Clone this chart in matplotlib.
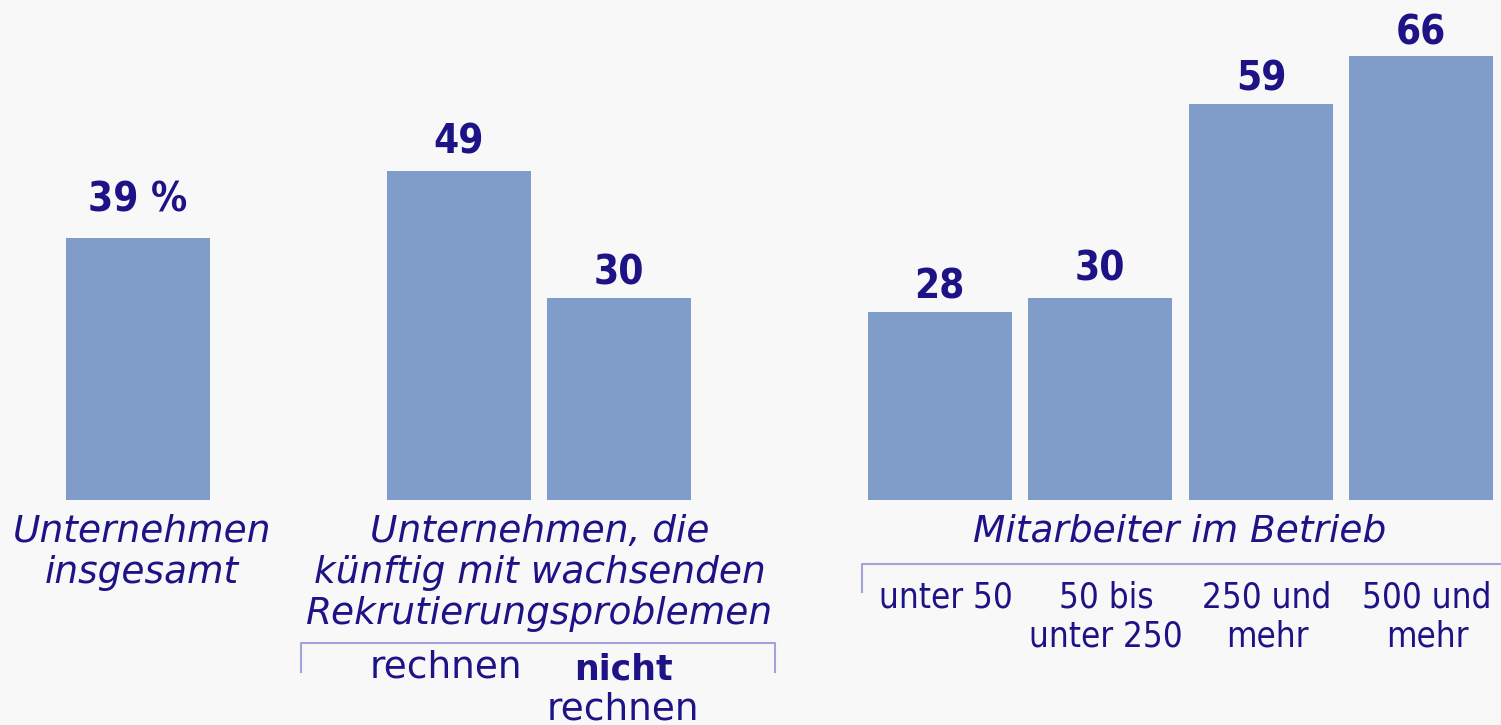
import matplotlib.pyplot as plt

# data
values = [39, 49, 30, 28, 30, 59, 66]
value_labels = ["39 %", "49", "30", "28", "30", "59", "66"]
group_titles = ["Unternehmen\ninsgesamt",
                "Unternehmen, die\nkünftig mit wachsenden\nRekrutierungsproblemen",
                "Mitarbeiter im Betrieb"]
size_labels = ["unter 50", "50 bis\nunter 250", "250 und\nmehr", "500 und\nmehr"]

# layout (x in pixels, y in percent units)
bar_x = [137.5, 458.5, 619, 939.5, 1100, 1261, 1421]
bar_w = 144
label_pad = [4.0, 2.5, 2.0, 2.0, 2.6, 2.0, 1.8]
px = 6.72  # pixels per percent

bar_color = "#809dc9"
text_color = "#1d1386"
line_color = "#a3a3dc"
bg = "#f8f8f8"

def yv(ypix):
    # pixel row -> value coordinate
    return (500 - ypix) / px

fig = plt.figure(figsize=(15.01, 7.25), dpi=100, facecolor=bg)
ax = fig.add_axes([0, 0, 1, 1])
ax.set_facecolor(bg)
ax.set_xlim(0, 1501)
ax.set_ylim(yv(725), yv(0))
ax.axis("off")

ax.bar(bar_x, values, width=bar_w, color=bar_color, edgecolor="none")
for x, v, lab, pad in zip(bar_x, values, value_labels, label_pad):
    ax.text(x, v + pad, lab, ha="center", va="baseline", fontsize=29,
            fontweight="bold", fontstretch="condensed", family="DejaVu Sans",
            color=text_color)

# group titles
title_kw = dict(ha="center", va="top", fontsize=27, style="italic",
                family="DejaVu Sans", color=text_color, linespacing=1.18)
ax.text(142, yv(514), group_titles[0], **title_kw)
ax.text(540, yv(514), group_titles[1], **title_kw)
ax.text(1180, yv(514), group_titles[2], **title_kw)

# bracket under the second group
ax.plot([301, 301, 775, 775], [yv(672), yv(643), yv(643), yv(672)],
        color=line_color, lw=1.5)
sub_kw = dict(ha="center", va="baseline", fontsize=27, family="DejaVu Sans",
              color=text_color)
ax.text(446, yv(677), "rechnen", **sub_kw)
ax.text(623, yv(680), "nicht", fontsize=25, fontweight="bold",
        family="DejaVu Sans", color=text_color, ha="center", va="baseline")
ax.text(623, yv(720), "rechnen", **sub_kw)

# bracket under size classes
ax.plot([862, 862, 1501], [yv(592), yv(564), yv(564)], color=line_color, lw=1.5)
size_kw = dict(ha="center", va="top", fontsize=25, family="DejaVu Sans",
               fontstretch="condensed", color=text_color, linespacing=1.22)
for x, lab in zip(bar_x[3:], size_labels):
    ax.text(x + 6, yv(580), lab, **size_kw)

fig.savefig("out.png", dpi=100, facecolor=bg)
